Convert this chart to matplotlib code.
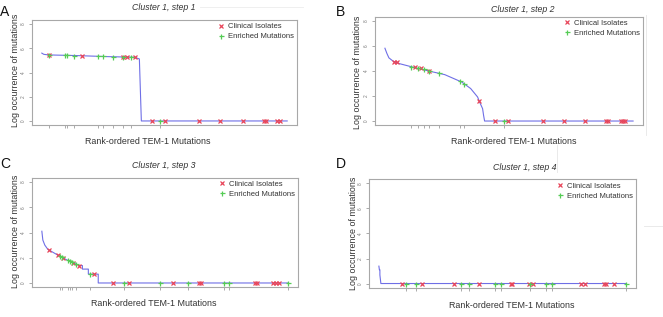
import matplotlib
matplotlib.use("Agg")
import matplotlib.pyplot as plt
from matplotlib.lines import Line2D

plt.rcParams['font.family'] = ['Liberation Sans', 'DejaVu Sans']

N_RANKS = 250
TITLES = ["Cluster 1, step 1", "Cluster 1, step 2", "Cluster 1, step 3", "Cluster 1, step 4"]
LETTERS = ["A", "B", "C", "D"]
XLABEL = "Rank-ordered TEM-1 Mutations"
YLABEL = "Log occurrence of mutations"
YTICKS = [0, 2, 4, 6, 8]
LEGEND_LABELS = ["Clinical Isolates", "Enriched Mutations"]

# Panel A (step 1)
a_curve_rank = [1, 3, 8, 35, 68, 95, 100, 102, 250]
a_curve_val = [5.6, 5.5, 5.45, 5.4, 5.31, 5.26, 5.12, 0, 0]
a_clin_rank = [8, 42, 83, 87, 96, 113, 126, 161, 182, 205, 226, 228, 240, 243]
a_clin_val = [5.45, 5.38, 5.29, 5.28, 5.24, 0, 0, 0, 0, 0, 0, 0, 0, 0]
a_enr_rank = [8, 25, 27, 34, 58, 63, 73, 83, 92, 121]
a_enr_val = [5.45, 5.42, 5.42, 5.4, 5.35, 5.33, 5.31, 5.29, 5.27, 0]

# Panel B (step 2)
b_curve_rank = [1, 3, 5, 9, 15, 28, 45, 61, 78, 87, 94, 96, 99, 100, 101, 250]
b_curve_val = [5.82, 5.4, 5.05, 4.8, 4.6, 4.33, 4.0, 3.71, 3.12, 2.6, 1.92, 1.52, 0.99, 0.45, 0, 0]
b_clin_rank = [10, 13, 31, 37, 45, 95, 111, 124, 160, 181, 202, 223, 225, 238, 240, 242]
b_clin_val = [4.75, 4.68, 4.28, 4.2, 4.02, 1.6, 0, 0, 0, 0, 0, 0, 0, 0, 0, 0]
b_enr_rank = [27, 34, 40, 45, 55, 76, 80, 120]
b_enr_val = [4.35, 4.25, 4.15, 4.02, 3.88, 3.2, 3.0, 0]

# Panel C (step 3)
c_curve_rank = [1, 2, 4, 7, 14, 20, 27, 34, 39, 42, 42, 48, 48, 58, 58, 250]
c_curve_val = [4.1, 3.4, 3.0, 2.67, 2.35, 2.08, 1.8, 1.55, 1.38, 1.38, 1.1, 1.1, 0.7, 0.7, 0, 0]
c_clin_rank = [8, 17, 22, 32, 39, 54, 73, 89, 134, 160, 162, 216, 219, 235, 238, 241]
c_clin_val = [2.6, 2.2, 2.0, 1.62, 1.38, 0.7, 0, 0, 0, 0, 0, 0, 0, 0, 0, 0]
c_enr_rank = [19, 21, 27, 29, 31, 36, 50, 84, 120, 149, 185, 190, 250]
c_enr_val = [2.12, 2.06, 1.82, 1.72, 1.66, 1.5, 0.7, 0, 0, 0, 0, 0, 0]

# Panel D (step 4)
d_curve_rank = [1, 1.5, 2, 2, 3, 250]
d_curve_val = [1.39, 1.1, 1.1, 0.69, 0, 0]
d_clin_rank = [24, 44, 77, 102, 134, 135, 152, 156, 205, 209, 228, 230, 238]
d_clin_val = [0] * 13
d_enr_rank = [28, 38, 84, 92, 118, 124, 153, 169, 175, 250]
d_enr_val = [0] * 10

panels = [
    (a_curve_rank, a_curve_val, a_clin_rank, a_clin_val, a_enr_rank, a_enr_val),
    (b_curve_rank, b_curve_val, b_clin_rank, b_clin_val, b_enr_rank, b_enr_val),
    (c_curve_rank, c_curve_val, c_clin_rank, c_clin_val, c_enr_rank, c_enr_val),
    (d_curve_rank, d_curve_val, d_clin_rank, d_clin_val, d_enr_rank, d_enr_val),
]

W, H = 663, 317
fig = plt.figure(figsize=(W / 100, H / 100), dpi=100)

# axes boxes in pixels: left, right, top, bottom
boxes = [(32, 297, 19.8, 125.2), (375, 643, 16.6, 125.4),
         (32, 298, 177.6, 287.4), (369, 636, 179.1, 287.9)]
title_pos = [(164, 7), (523, 9), (164, 166), (525, 167)]
letter_pos = [(5, 12), (341, 12), (5, 164), (341, 164)]
xlabel_pos = [(148, 141), (514, 142), (154, 304), (512, 306)]
ylabel_pos = [(16, 70), (358, 72), (16, 231), (354, 233)]

LINE_COL = '#6f6fe6'
RED = '#e8455a'
GREEN = '#55cc55'
FRAME = '#a8a8a8'

def fx(px):
    return px / W

def fy(py):
    return 1 - py / H

for i, (cr, cv, clr, clv, er, ev) in enumerate(panels):
    l, r, t, b = boxes[i]
    ax = fig.add_axes([fx(l), fy(b), (r - l) / W, (b - t) / H])
    ax.plot(cr, cv, color=LINE_COL, lw=0.8, zorder=2)
    ax.plot(clr, clv, linestyle='none', marker='x', color=RED, ms=2.8, mew=0.9, zorder=3)
    ax.plot(er, ev, linestyle='none', marker='+', color=GREEN, ms=3.6, mew=0.9, zorder=3)
    span = N_RANKS - 1
    ax.set_xlim(1 - 0.04 * span, N_RANKS + 0.04 * span)
    ax.set_ylim(-0.35, 8.35)
    ax.set_yticks(YTICKS)
    ax.set_yticklabels([str(v) for v in YTICKS], rotation=90, va='center',
                       fontsize=3.4, color='#777777')
    ax.set_xticks(er)
    ax.set_xticklabels([])
    ax.tick_params(axis='both', length=2.2, width=0.5, color='#888888', pad=2)
    for s in ax.spines.values():
        s.set_color(FRAME)
        s.set_linewidth(0.8)
    handles = [Line2D([], [], linestyle='none', marker='x', color=RED, ms=2.8, mew=0.9),
               Line2D([], [], linestyle='none', marker='+', color=GREEN, ms=3.6, mew=0.9)]
    leg = ax.legend(handles, LEGEND_LABELS, loc='upper right', frameon=False,
                    fontsize=5.5, handlelength=0.9, handletextpad=0.5,
                    labelspacing=0.35, borderaxespad=0.1, borderpad=0.3)
    for txt in leg.get_texts():
        txt.set_color('#333333')

    tx, ty = title_pos[i]
    fig.text(fx(tx), fy(ty), TITLES[i], ha='center', va='center', fontsize=6.3,
             style='italic', color='#333333')
    lx, ly = letter_pos[i]
    fig.text(fx(lx), fy(ly), LETTERS[i], ha='center', va='center', fontsize=10,
             color='#111111')
    xx, xy = xlabel_pos[i]
    fig.text(fx(xx), fy(xy), XLABEL, ha='center', va='center', fontsize=6.4,
             color='#333333')
    yx, yy = ylabel_pos[i]
    fig.text(fx(yx), fy(yy), YLABEL, ha='center', va='center', fontsize=6.4,
             rotation=90, color='#333333')

# faint scan artefact lines from the source figure
fig.add_artist(Line2D([fx(200), fx(303)], [fy(7), fy(7)], color='#ececec', lw=0.6))
fig.add_artist(Line2D([fx(646), fx(646)], [fy(15), fy(135)], color='#e6e6e6', lw=0.6))
fig.add_artist(Line2D([fx(557), fx(557)], [fy(145), fy(172)], color='#e6e6e6', lw=0.6))
fig.add_artist(Line2D([fx(644), fx(663)], [fy(226), fy(226)], color='#e6e6e6', lw=0.6))

fig.savefig("out.png", dpi=100)
